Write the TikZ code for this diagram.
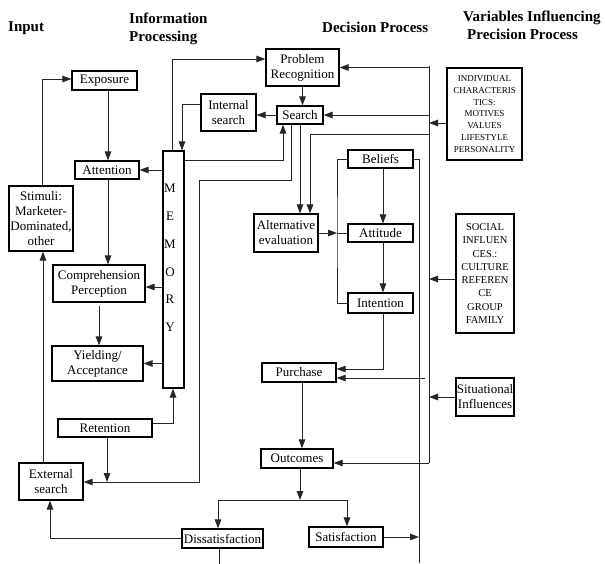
\documentclass[tikz,border=0pt]{standalone}
\usepackage{fontspec}
\setmainfont{Liberation Serif}
\usetikzlibrary{arrows.meta,calc}
\begin{document}
\begin{tikzpicture}[x=1pt,y=-1pt,
  box/.style={draw=black, line width=1.2pt, fill=white, inner sep=0pt, align=center, font=\fontsize{13}{15}\selectfont},
  conn/.style={draw=black!85, line width=1pt},
  arr/.style={conn, -{Triangle[length=9pt,width=6.5pt]}},
  head/.style={font=\bfseries\fontsize{15}{18}\selectfont, align=left, inner sep=0pt}]
\useasboundingbox (0,0) rectangle (605,563);
\fill[white] (0,0) rectangle (605,563);
% headings
\node[head, anchor=west] (hIn) at (8,28.5) {Input};
\node[head, anchor=north west] (hInfo) at (129,13) {Information\\Processing};
\node[head, anchor=west] (hDec) at (322,27) {Decision Process};
\node[head, anchor=north west] (hVar) at (463,11) {Variables Influencing\\\hspace*{4pt}Precision Process};
% boxes
\node[box, minimum width=65, minimum height=19] (exposure) at (104.5,80.5) {Exposure};
\node[box, minimum width=64, minimum height=18] (attention) at (107,170) {Attention};
\node[box, minimum width=21, minimum height=237] (memory) at (173.5,269.5) {};
\node[font=\fontsize{13}{27.8}\selectfont, align=center, inner sep=0pt] (memtext) at (170,258) {M\\E\\M\\O\\R\\Y};
\node[box, minimum width=64, minimum height=65] (stimuli) at (41,218.5) {Stimuli:\\Marketer-\\Dominated,\\other};
\node[box, minimum width=92, minimum height=37] (comp) at (99,283.5) {Comprehension\\Perception};
\node[box, minimum width=91, minimum height=35] (yield) at (97.5,363.5) {Yielding/\\Acceptance};
\node[box, minimum width=94, minimum height=18] (retention) at (105,428) {Retention};
\node[box, minimum width=64, minimum height=37] (extsearch) at (51,481.5) {External\\search};
\node[box, minimum width=81, minimum height=19] (dissat) at (222.5,538.5) {Dissatisfaction};
\node[box, minimum width=74, minimum height=20] (sat) at (346,537) {Satisfaction};
\node[box, minimum width=72, minimum height=19] (outcomes) at (297,458.5) {Outcomes};
\node[box, minimum width=74, minimum height=19] (purchase) at (299,372.5) {Purchase};
\node[box, minimum width=73, minimum height=37] (problem) at (302.5,67.5) {Problem\\Recognition};
\node[box, minimum width=46, minimum height=18] (search) at (300,115) {Search};
\node[box, minimum width=55, minimum height=37] (intsearch) at (228.5,112.5) {Internal\\search};
\node[box, minimum width=65, minimum height=18] (beliefs) at (380.5,159) {Beliefs};
\node[box, minimum width=65, minimum height=18] (attitude) at (380.5,233) {Attitude};
\node[box, minimum width=65, minimum height=20] (intention) at (380.5,303) {Intention};
\node[box, minimum width=64, minimum height=38] (alteval) at (286,233) {Alternative\\evaluation};
\node[box, minimum width=75, minimum height=92, font=\fontsize{9}{11.7}\selectfont] (indiv) at (484.5,114) {\raisebox{3pt}{\parbox{74pt}{\centering INDIVIDUAL\\CHARACTERIS\\TICS:\\MOTIVES\\VALUES\\LIFESTYLE\\PERSONALITY}}};
\node[box, minimum width=58, minimum height=119, font=\fontsize{10.5}{13.3}\selectfont] (social) at (485,273.5) {\raisebox{4pt}{\parbox{57pt}{\centering SOCIAL\\INFLUEN\\CES.:\\CULTURE\\REFEREN\\CE\\GROUP\\FAMILY}}};
\node[box, minimum width=58, minimum height=38] (situ) at (485,397) {Situational\\Influences};
% helper coordinates
\coordinate (Btop) at (429,66);
\coordinate (Bbot) at (429,463);
\coordinate (Abot) at (419,563);
\coordinate (bend1) at (199,180);
\coordinate (jn) at (300,500);
\coordinate (brk) at (337,233);
\coordinate (pB) at (425,378);
\coordinate (es) at ($(extsearch.east)+(0,0.5)$);
\coordinate (rs) at ($(retention.south)+(2,0)$);
\coordinate (s1) at ($(search.south)+(-9,0)$);
\coordinate (ce) at ($(comp.east)+(0,3.5)$);
\coordinate (iw) at ($(indiv.west)+(0,9)$);
\coordinate (sw) at ($(social.west)+(0,5.5)$);
% input / information processing connectors
\draw[arr] ($(stimuli.north)+(1,0)$) |- ($(exposure.west)+(0,-1.5)$);
\draw[arr] ($(extsearch.north)+(-8,0)$) -- ($(stimuli.south)+(2,0)$);
\draw[arr] ($(exposure.south)+(3.5,0)$) -- ($(attention.north)+(1,0)$);
\draw[arr] ($(attention.south)+(1,0)$) -- ($(comp.north)+(9,0)$);
\draw[arr] ($(comp.south)+(0,3)$) -- (comp.south |- yield.north);
\draw[arr] (memory.west |- attention.east) -- (attention.east);
\draw[arr] (memory.west |- ce) -- (ce);
\draw[arr] (memory.west |- yield.east) -- (yield.east);
\draw[arr] ($(retention.east)+(0,-5)$) -| ($(memory.south)+(-0.5,0)$);
\draw[arr] (rs) -- (rs |- es);
\draw[arr] (s1) |- (bend1) |- (es);
\draw[arr] ($(memory.north east)+(0,10)$) -| ($(search.south)+(-17,0)$);
\draw[arr] ($(memory.north)+(-1.5,0)$) |- ($(problem.west)+(0,-8.5)$);
\draw[arr] ($(intsearch.west)+(0,-8.5)$) -| ($(memory.north)+(8.5,0)$);
\draw[arr] (search.west) -- (intsearch.east |- search.west);
% decision process connectors
\draw[arr] (problem.south) -- (problem.south |- search.north);
\draw[arr] (search.south) -- (search.south |- alteval.north);
\draw[conn] (Btop) -- (Bbot);
\draw[arr] (Bbot) -- (outcomes.east |- Bbot);
\draw[arr] (Btop |- problem.east) -- (problem.east);
\draw[arr] (Btop |- search.east) -- (search.east);
\draw[arr] ($(Btop)+(0,68)$) -| ($(alteval.north)+(24,0)$);
\draw[arr] (iw) -- (Btop |- iw);
\draw[arr] (sw) -- (Btop |- sw);
\draw[arr] (situ.west) -- (Btop |- situ.west);
\draw[conn] (beliefs.east) -| (Abot);
\draw[arr] (pB) -- (purchase.east |- pB);
\draw[arr] ($(intention.south)+(2.5,0)$) |- ($(purchase.east)+(0,-3.5)$);
\draw[arr] ($(purchase.south)+(3,0)$) -- ($(outcomes.north)+(5,0)$);
\draw[arr] (outcomes.south -| jn) -- (jn);
\draw[arr] (jn) -| ($(dissat.north)+(-4.5,0)$);
\draw[arr] (jn) -| ($(sat.north)+(1,0)$);
\draw[arr] (sat.east) -- (Abot |- sat.east);
\draw[arr] (dissat.west) -| ($(extsearch.south)+(-1,0)$);
\draw[conn] ($(dissat.south)+(-3.5,0)$) -- ($(dissat.south)+(-3.5,15)$);
\draw[conn] (beliefs.west) -| (brk) |- (intention.west);
\draw[arr] (alteval.east) -- (brk);
\draw[conn] (brk) -- (attitude.west);
\draw[arr] ($(beliefs.south)+(2.5,0)$) -- ($(attitude.north)+(2.5,0)$);
\draw[arr] ($(attitude.south)+(2.5,0)$) -- ($(intention.north)+(2.5,0)$);
\end{tikzpicture}
\end{document}
